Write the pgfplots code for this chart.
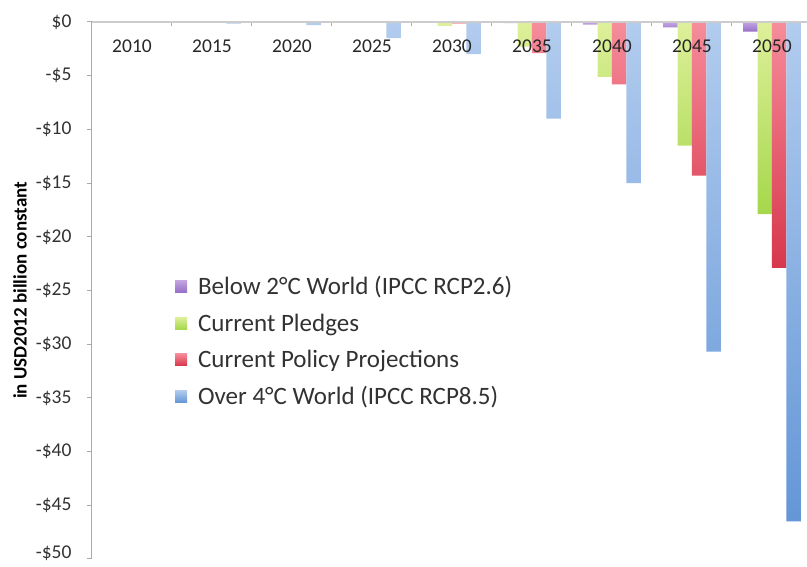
\documentclass[border=0pt]{standalone}
\usepackage{pgfplots}
\pgfplotsset{compat=1.18}
\usepackage{fontspec}
\setmainfont{Carlito}
\definecolor{pTop}{RGB}{195,165,225}
\definecolor{pBot}{RGB}{150,110,200}
\definecolor{gTop}{RGB}{222,240,155}
\definecolor{gBot}{RGB}{165,215,75}
\definecolor{rTop}{RGB}{246,140,155}
\definecolor{rBot}{RGB}{215,55,75}
\definecolor{bTop}{RGB}{178,204,238}
\definecolor{bBot}{RGB}{100,150,215}
\definecolor{axgray}{RGB}{170,170,170}
\definecolor{txt}{RGB}{50,50,50}
\begin{document}
\begin{tikzpicture}[x=1pt,y=1pt]
\useasboundingbox (0,0) rectangle (807,-567);
\begin{axis}[
  at={(92pt,-22pt)}, anchor=north west,
  scale only axis, width=720pt, height=537pt,
  xmin=-0.5, xmax=8.5, ymin=-50, ymax=0,
  axis on top,
  axis x line*=top, axis y line*=left,
  axis line style={draw=axgray, line width=1pt},
  x axis line style={line width=1.6pt, draw=black!20},
  ybar=0pt, bar width=0.18,
  xtick={0,...,8},
  xticklabels={2010,2015,2020,2025,2030,2035,2040,2045,2050},
  major x tick style={draw=none},
  minor xtick={0.5,1.5,...,7.5},
  minor x tick style={draw=axgray, line width=1pt, yshift=-4pt},
  minor tick length=4pt,
  xticklabel style={anchor=center, yshift=-29pt, font=\fontsize{19.5}{20}\selectfont, text=black!85},
  ytick={-50,-45,-40,-35,-30,-25,-20,-15,-10,-5,0},
  yticklabels={\raisebox{6pt}[\height][\depth]{-\$50},-\$45,-\$40,-\$35,-\$30,-\$25,-\$20,-\$15,-\$10,-\$5,\$0},
  yticklabel style={font=\fontsize{19.5}{20}\selectfont, text=txt, xshift=-12pt},
  tick align=outside, major tick length=5pt,
  major y tick style={draw=axgray, line width=1pt},
  ylabel={in USD2012 billion constant},
  ylabel style={font=\bfseries\fontsize{19}{19}\selectfont, at={(axis description cs:-0.1,0.5)}, anchor=center},
  legend style={at={(axis description cs:0.111,0.534)}, anchor=north west, draw=none, fill=none,
    font=\fontsize{25}{25}\selectfont, text=txt, row sep=13.5pt},
  legend cell align=left,
  legend image code/.code={\fill[#1] (0pt,-6pt) rectangle (12pt,6pt); \path (0pt,0pt) -- (21pt,0pt);},
  clip=false,
]
\addplot[draw=none, top color=pTop, bottom color=pBot] coordinates {
(0,-0.02) (1,-0.05) (2,-0.05) (3,-0.05) (4,-0.05) (5,-0.1) (6,-0.25) (7,-0.5) (8,-0.9)};
\addplot[draw=none, top color=gTop, bottom color=gBot] coordinates {
(0,-0.01) (1,-0.02) (2,-0.03) (3,-0.05) (4,-0.35) (5,-2.3) (6,-5.1) (7,-11.5) (8,-17.9)};
\addplot[draw=none, top color=rTop, bottom color=rBot] coordinates {
(0,-0.01) (1,-0.02) (2,-0.03) (3,-0.05) (4,-0.15) (5,-2.9) (6,-5.8) (7,-14.3) (8,-22.9)};
\addplot[draw=none, top color=bTop, bottom color=bBot] coordinates {
(0,-0.03) (1,-0.15) (2,-0.3) (3,-1.5) (4,-3.0) (5,-9.0) (6,-15.0) (7,-30.7) (8,-46.5)};
\legend{Below 2°C World (IPCC RCP2.6), Current Pledges, Current Policy Projections, Over 4°C World (IPCC RCP8.5)}
\end{axis}
\end{tikzpicture}
\end{document}
